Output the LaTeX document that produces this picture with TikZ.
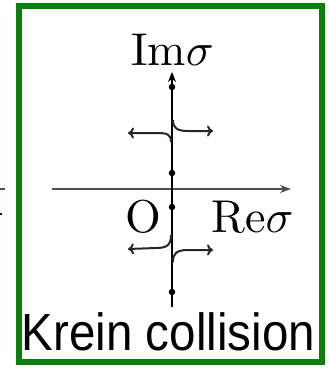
\documentclass[tikz,border=0pt]{standalone}
\usepackage{fontspec}
\newfontfamily\kfont{Liberation Sans}
\usetikzlibrary{arrows.meta}
\definecolor{framegreen}{RGB}{10,128,10}
\definecolor{axisgrey}{RGB}{80,80,80}
\tikzset{
  frameline/.style={draw=framegreen, line width=6pt},
  imaxis/.style={draw=black, line width=2.4pt, -{Stealth[length=10pt,width=8pt]}},
  reaxis/.style={draw=axisgrey, line width=2.2pt, -{Stealth[length=11pt,width=8pt]}},
  branch/.style={draw=black!85, line width=2pt, -{To[length=6pt,width=11pt]}},
  eig/.style={circle, fill=black, inner sep=0pt, minimum size=6.5pt},
  mathlabel/.style={anchor=base, inner sep=0pt, text=black},
}
\begin{document}
\begin{tikzpicture}[x=1pt,y=-1pt]
\useasboundingbox (0,0) rectangle (327,369);
% cut-off fragments at left edge
\coordinate (fa) at (0,189);
\coordinate (fb) at (5,189);
\coordinate (fc) at (0,214);
\coordinate (fd) at (2,214);
\draw[axisgrey, line width=2.5pt] (fa) -- (fb);
\draw[blue!70!black, line width=2pt] (fc) -- (fd);
% frame
\node[frameline, minimum width=303pt, minimum height=356pt, inner sep=0pt] (frame) at (170.5,184) {};
% axes
\coordinate (vb) at (172,307);
\coordinate (vt) at (172,72);
\coordinate (hl) at (52,189);
\coordinate (hr) at (291,189);
\draw[reaxis] (hl) -- (hr);
\draw[imaxis] (vb) -- (vt);
% eigenvalues
\node[eig] (e1) at (172,87) {};
\node[eig] (e2) at (172,173) {};
\node[eig] (e3) at (172,207) {};
\node[eig] (e4) at (172,292) {};
% branches
\coordinate (ul0) at (171,142);
\coordinate (ul1) at (128,133);
\coordinate (ur0) at (173,120);
\coordinate (ur1) at (213,131);
\coordinate (ll0) at (171,235);
\coordinate (ll1) at (128,249);
\coordinate (lr0) at (173,262);
\coordinate (lr1) at (213,250);
\draw[branch] (ul0) .. controls (171,134) and (167,133) .. (156,133) -- (ul1);
\draw[branch] (ur0) .. controls (173,128) and (177,131) .. (188,131) -- (ur1);
\draw[branch] (ll0) .. controls (171,245) and (167,248) .. (156,248) -- (ll1);
\draw[branch] (lr0) .. controls (173,253) and (177,250) .. (188,250) -- (lr1);
% labels
\node[mathlabel] (im) at (172.5,65) {\scalebox{4.6}{$\mathrm{Im}\sigma$}};
\node[mathlabel] (o) at (143.5,232) {\scalebox{4.6}{O}};
\node[mathlabel] (re) at (252.5,232) {\scalebox{4.6}{$\mathrm{Re}\sigma$}};
\node[mathlabel] (kc) at (168.5,350) {\scalebox{1}[1.1]{\fontsize{47.5}{52}\kfont Krein collision}};
\end{tikzpicture}
\end{document}
